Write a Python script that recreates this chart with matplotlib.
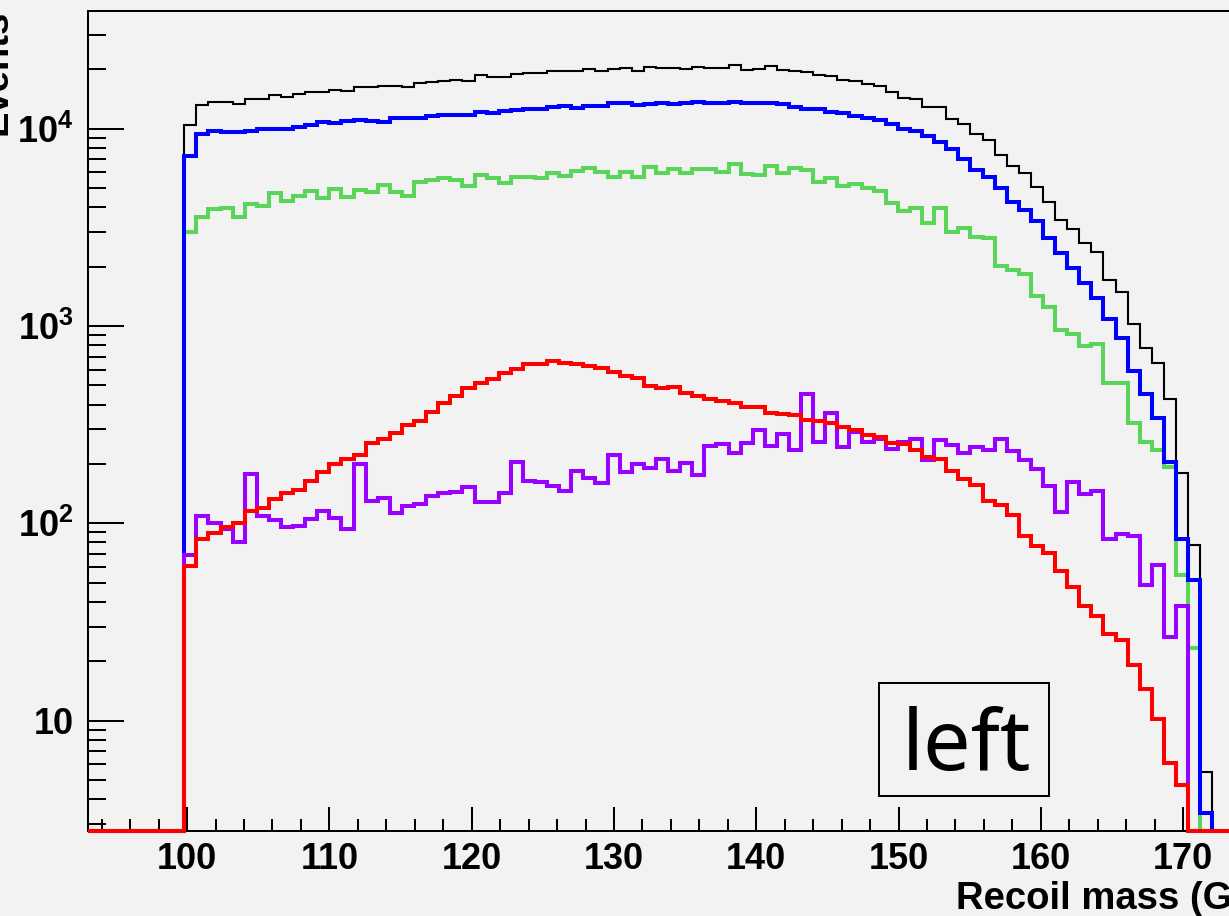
import numpy as np
import matplotlib
matplotlib.use("Agg")
import matplotlib.pyplot as plt
from matplotlib.patches import Rectangle
from matplotlib.ticker import FixedLocator, NullFormatter, MultipleLocator

plt.rcParams['font.family'] = ['Liberation Sans', 'DejaVu Sans']
plt.rcParams['mathtext.fontset'] = 'custom'
plt.rcParams['mathtext.rm'] = 'Liberation Sans:bold'
plt.rcParams['mathtext.bf'] = 'Liberation Sans:bold'
plt.rcParams['mathtext.it'] = 'Liberation Sans:bold'

# ---------------- data ----------------
# 100 bins of 0.85 GeV from 93 to 178; filled bins start at 99.8 GeV (bin 8)
x_lo, x_hi, n_bins = 93.0, 178.0, 100
first_bin = 8

total = [10440, 13180, 13700, 13600, 13340, 14140, 14140, 14870, 14520, 14940,
         15290, 15400, 15770, 15580, 16330, 16210, 16450, 16450, 16330, 16980,
         17300, 17450, 17650, 17510, 18720, 18350, 18350, 18930, 19090, 19090,
         19540, 19540, 19680, 20070, 19680, 20000, 20230, 19600, 20470, 20230,
         20230, 20000, 20610, 20380, 20230, 20950, 19880, 20000, 20790, 19840,
         19680, 19450, 18720, 18500, 17650, 17450, 16850, 16450, 15290, 14260,
         14090, 12930, 12930, 11200, 10560, 9400, 8770, 7360, 6470, 5940,
         5080, 4266, 3445, 3090, 2625, 2380, 1710, 1493, 1020, 771,
         647, 425, 181, 77.6, 5.5]

blue = [7270, 9400, 9735, 9620, 9590, 9770, 9965, 10000, 9965, 10235,
        10440, 10770, 10650, 10940, 11070, 10980, 10850, 11290, 11290, 11370,
        11640, 11730, 11780, 11740, 12110, 11970, 12290, 12440, 12630, 12540,
        12880, 13080, 12780, 12990, 13030, 13550, 13450, 13180, 13340, 13550,
        13290, 13450, 13600, 13450, 13550, 13650, 13470, 13500, 13550, 13290,
        12930, 12630, 12630, 12190, 11970, 11590, 11370, 11070, 10560, 9965,
        9700, 9190, 8590, 7860, 7000, 6180, 5670, 4990, 4266, 3870,
        3410, 2782, 2336, 1961, 1645, 1380, 1081, 867, 593, 452,
        340, 205, 83, 51.6, 3.4]

green = [3006, 3556, 3917, 3950, 3580, 4150, 4057, 4742, 4316, 4560,
         4835, 4440, 4966, 4520, 4890, 4795, 5200, 4795, 4560, 5385,
         5495, 5605, 5495, 5100, 5823, 5645, 5325, 5712, 5670, 5605,
         5940, 5755, 6105, 6345, 6055, 5712, 6055, 5712, 6370, 5985,
         6225, 5940, 6250, 6225, 6035, 6625, 5915, 5823, 6470, 5940,
         6300, 6180, 5385, 5605, 5125, 5245, 4990, 4850, 4217, 3841,
         3950, 3340, 3950, 3006, 3126, 2836, 2783, 2020, 1915, 1836,
         1414, 1253, 954, 911, 792, 811, 516, 516, 324, 259,
         235, 194, 55, 23.4, 0]

red = [61, 83.2, 89.6, 95.4, 100, 115.5, 120, 132.7, 142.9, 147.6,
       164.4, 182.7, 199, 211.8, 222, 254.4, 267.5, 287.8, 314.9, 330,
       368, 405.6, 441.6, 486, 516, 537, 580, 603, 642, 642,
       667, 652, 642, 627, 615, 586.5, 558, 543, 498, 486.6,
       492.4, 456, 441.6, 424.9, 418, 405.6, 388, 388, 360.8, 356.6,
       354, 334, 331, 323.6, 309, 297, 280, 272.9, 256, 251.4,
       235.5, 216, 211, 184.8, 167, 156.3, 130.2, 124.5, 110.1, 86.4,
       77.2, 70.5, 57.5, 47.4, 38.1, 33.9, 27.4, 25.6, 19.1, 14.4,
       10.15, 6.08, 4.72, 0, 0]

purple = [69, 108.9, 100, 93.3, 80.7, 177.8, 108.9, 104, 96.2, 97.3,
          105.2, 115.9, 106.8, 93.3, 200, 129.7, 134, 113.2, 122.8, 124.8,
          137.5, 141.9, 143.6, 152, 128.8, 128.8, 141.9, 205, 163.8, 162.5,
          155.2, 146.3, 184.8, 169, 159.6, 222, 182.7, 199, 190, 211.8,
          184, 201.4, 175.8, 246.5, 251.4, 228, 254.4, 298, 246.5, 283.6,
          235.5, 452, 259.4, 360.8, 242.7, 291, 259.4, 266.6, 237, 259.4,
          266.6, 209.4, 264.4, 249.3, 228, 242.7, 235.5, 267, 233.2, 210,
          189, 154.5, 114.6, 162.5, 140.8, 146.3, 83.5, 88.8, 86.3, 48.7,
          61.5, 26.6, 38.1, 0, 0]

x_ticks = [100, 110, 120, 130, 140, 150, 160, 170]
y_ticks = [10, 100, 1000, 10000]
y_tick_labels = ['10', r'$10^{2}$', r'$10^{3}$', r'$10^{4}$']
x_title = 'Recoil mass (GeV)'
y_title = 'Events'
box_text = 'left'

# ---------------- figure ----------------
W, H = 1229, 916
bg = '#f2f2f2'
fig = plt.figure(figsize=(W / 100, H / 100), dpi=100, facecolor=bg)

ax_left, ax_right = 87.5, 1297.0
ax_top, ax_bot = 11.0, 831.0
ax = fig.add_axes([ax_left / W, (H - ax_bot) / H,
                   (ax_right - ax_left) / W, (ax_bot - ax_top) / H])
ax.set_facecolor(bg)

y_min, y_max = 2.76, 39500.0
ax.set_xlim(x_lo, x_hi)
ax.set_yscale('log')
ax.set_ylim(y_min, y_max)

edges = np.linspace(x_lo, x_hi, n_bins + 1)


def full(vals):
    arr = np.zeros(n_bins)
    arr[first_bin:first_bin + len(vals)] = vals
    return np.clip(arr, y_min, None)


series = [
    (total, 'black', 1.5),
    (green, '#5ad55a', 2.9),
    (blue, '#0000ff', 2.9),
    (purple, '#9900ff', 2.9),
    (red, '#ff0000', 2.9),
]
for z, (vals, col, lw) in enumerate(series):
    ax.stairs(full(vals), edges, baseline=None, fill=False, color=col,
              linewidth=lw, zorder=3 + z, clip_on=False)

# spines
for s in ['left', 'bottom', 'top']:
    ax.spines[s].set_linewidth(1.45)
    ax.spines[s].set_color('black')
ax.spines['right'].set_visible(False)

# ticks
ax.xaxis.set_major_locator(FixedLocator(x_ticks))
ax.xaxis.set_minor_locator(MultipleLocator(2))
ax.set_xticklabels([str(t) for t in x_ticks])
minor_y = [m * 10 ** e for e in range(0, 5) for m in range(2, 10)
           if y_min < m * 10 ** e < y_max]
ax.yaxis.set_major_locator(FixedLocator(y_ticks))
ax.yaxis.set_minor_locator(FixedLocator(minor_y))
ax.yaxis.set_minor_formatter(NullFormatter())
ax.set_yticklabels(y_tick_labels)

ax.tick_params(axis='x', which='major', direction='in', length=17, width=1.45,
               pad=8, labelsize=26, top=False)
ax.tick_params(axis='x', which='minor', direction='in', length=8.6, width=1.45,
               top=False)
ax.tick_params(axis='y', which='major', direction='in', length=26, width=1.45,
               pad=10, labelsize=26, right=False)
ax.tick_params(axis='y', which='minor', direction='in', length=13, width=1.45,
               right=False)
for lab in ax.get_xticklabels() + ax.get_yticklabels():
    lab.set_fontweight('bold')

# axis titles (positioned like ROOT: at the far ends of the axes, cut by the frame edge)
fig.text(956 / W, (H - 909) / H, x_title, ha='left', va='baseline',
         fontsize=27.5, fontweight='bold')
fig.text(15 / W, 1 - 10 / H, y_title, rotation=90, ha='right', va='top',
         fontsize=27.5, fontweight='bold')

# "left" label box
bx0, bx1, by0, by1 = 879.3, 1049.3, 682.7, 796.0
fig.patches.append(Rectangle((bx0 / W, (H - by1) / H), (bx1 - bx0) / W,
                             (by1 - by0) / H, transform=fig.transFigure,
                             facecolor=bg, edgecolor='black', linewidth=1.45,
                             zorder=10))
fig.text(966.2 / W, (H - 770) / H, box_text, ha='center', va='baseline',
         fontsize=61, family=['Noto Sans', 'DejaVu Sans'], fontweight='light',
         zorder=11)

fig.savefig('out.png', dpi=100, facecolor=bg)
